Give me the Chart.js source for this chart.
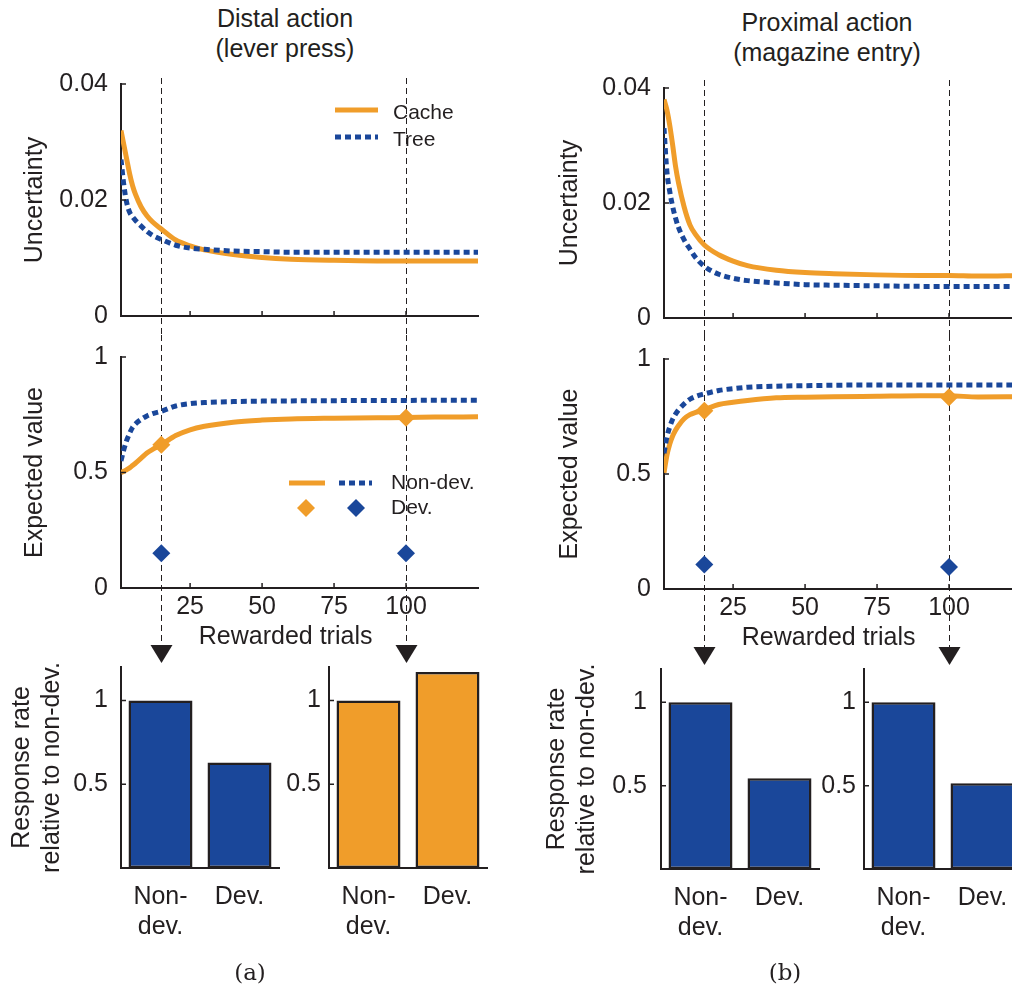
<!DOCTYPE html>
<html>
<head>
<meta charset="utf-8">
<script src="https://cdn.jsdelivr.net/npm/chart.js@4/dist/chart.umd.min.js"></script>
<style>
  body { margin: 0; width: 1012px; height: 987px; overflow: hidden; background: #fff; position: relative;
         font-family: "Liberation Sans", Arial, sans-serif; color: #231f20; }
  canvas { position: absolute; }
  .title { position: absolute; width: 300px; text-align: center; font-size: 25px; line-height: 30px; }
  .tag { position: absolute; width: 100px; text-align: center; font-family: "DejaVu Serif", serif; font-size: 23px; line-height: 30px; }
</style>
</head>
<body>
<div class="title" style="left:135px; top:3px">Distal action<br>(lever press)</div>
<div class="title" style="left:677px; top:7px">Proximal action<br>(magazine entry)</div>

<canvas id="uncDistal" width="500" height="269" style="left:0; top:66px"></canvas>
<canvas id="valDistal" width="500" height="330" style="left:0; top:335px"></canvas>
<canvas id="rateDistalEarly" width="290" height="312" style="left:0; top:648px"></canvas>
<canvas id="rateDistalLate" width="240" height="312" style="left:270px; top:648px"></canvas>

<canvas id="uncProximal" width="510" height="265" style="left:530px; top:70px"></canvas>
<canvas id="valProximal" width="510" height="332" style="left:530px; top:335px"></canvas>
<canvas id="rateProximalEarly" width="300" height="310" style="left:530px; top:650px"></canvas>
<canvas id="rateProximalLate" width="250" height="310" style="left:800px; top:650px"></canvas>

<div class="tag" style="left:200px; top:957px">(a)</div>
<div class="tag" style="left:735px; top:957px">(b)</div>

<script>
const INK = '#231f20';
const ORANGE = '#f09d2a';
const BLUE = '#1a479a';

// x values of the sampled curves (rewarded trials)
const trials = [1, 2, 3, 4, 5, 6, 8, 10, 12, 15, 20, 25, 30, 40, 50, 60, 75, 90, 100, 110, 125];
const trialTicks = [25, 50, 75, 100];
const probeTrials = [15, 100];

// distal action (lever press)
const cacheUncDistal = [0.032, 0.0295, 0.027, 0.0245, 0.0225, 0.021, 0.0188, 0.0173, 0.0162, 0.015, 0.0131, 0.0121,
  0.0114, 0.0106, 0.0101, 0.0098, 0.0096, 0.0095, 0.0095, 0.0095, 0.0095];
const treeUncDistal = [0.027, 0.0225, 0.0195, 0.0179, 0.0171, 0.0165, 0.0155, 0.0146, 0.0139, 0.0132, 0.0122, 0.0117,
  0.0115, 0.0112, 0.0111, 0.011, 0.011, 0.011, 0.011, 0.011, 0.011];
const cacheValDistal = [0.5, 0.505, 0.512, 0.52, 0.53, 0.54, 0.562, 0.584, 0.6, 0.62, 0.66, 0.685,
  0.7, 0.718, 0.727, 0.732, 0.735, 0.737, 0.738, 0.74, 0.741];
const treeValDistal = [0.55, 0.6, 0.64, 0.67, 0.695, 0.71, 0.73, 0.745, 0.755, 0.765, 0.788, 0.798,
  0.803, 0.807, 0.809, 0.81, 0.811, 0.812, 0.812, 0.813, 0.813];
const cacheDevDistal = [0.62, 0.737];
const treeDevDistal = [0.15, 0.15];

// proximal action (magazine entry)
const cacheUncProximal = [0.038, 0.0362, 0.0335, 0.0301, 0.0264, 0.0236, 0.0193, 0.0162, 0.0145, 0.0127, 0.011, 0.0099,
  0.0091, 0.0083, 0.0079, 0.0077, 0.0075, 0.0074, 0.0074, 0.0073, 0.0074];
const treeUncProximal = [0.033, 0.0255, 0.022, 0.0194, 0.0174, 0.0158, 0.0136, 0.012, 0.0105, 0.009, 0.0076, 0.0069,
  0.0065, 0.0061, 0.0058, 0.0057, 0.0056, 0.0055, 0.0055, 0.0055, 0.0055];
const cacheValProximal = [0.505, 0.58, 0.63, 0.665, 0.69, 0.71, 0.74, 0.758, 0.768, 0.78, 0.802, 0.812,
  0.82, 0.831, 0.834, 0.836, 0.838, 0.84, 0.84, 0.835, 0.836];
const treeValProximal = [0.59, 0.66, 0.705, 0.738, 0.76, 0.778, 0.805, 0.825, 0.837, 0.848, 0.863, 0.871,
  0.877, 0.882, 0.884, 0.886, 0.887, 0.887, 0.887, 0.887, 0.887];
const cacheDevProximal = [0.775, 0.834];
const treeDevProximal = [0.106, 0.096];

// response rate relative to non-devalued
const barLabels = [['Non-', 'dev.'], 'Dev.'];
const rateDistalEarly = [1, 0.63];
const rateDistalLate = [1, 1.17];
const rateProximalEarly = [1, 0.545];
const rateProximalLate = [1, 0.515];

const uncTicks = [0, 0.02, 0.04];
const valTicks = [0, 0.5, 1];
const rateTicks = [0.5, 1];

Chart.defaults.font.family = '"Liberation Sans", Arial, sans-serif';
Chart.defaults.font.size = 25;
Chart.defaults.color = INK;

// fixed axis boxes, so every plot area lands where the figure has it
const fixWidth = w => s => { s.width = w; s.paddingTop = 0; s.paddingBottom = 0; };
const fixHeight = h => s => { s.height = h; s.paddingLeft = 0; s.paddingRight = 0; };

// matlab style ticks pointing into the axes
const innerTicks = {
  id: 'innerTicks',
  afterDraw(chart) {
    const { ctx, chartArea: a, scales: { x, y } } = chart;
    ctx.save();
    ctx.strokeStyle = INK;
    ctx.lineWidth = 1.5;
    ctx.beginPath();
    if (x.type === 'linear') {
      x.ticks.forEach(t => {
        const px = x.getPixelForValue(t.value);
        ctx.moveTo(px, a.bottom);
        ctx.lineTo(px, a.bottom - 5);
      });
    }
    y.ticks.forEach(t => {
      const py = y.getPixelForValue(t.value);
      ctx.moveTo(a.left, py);
      ctx.lineTo(a.left + 5, py);
    });
    ctx.stroke();
    ctx.restore();
  }
};

// dashed lines at the probe trials, with arrows down to the bar plots
const probeLines = {
  id: 'probeLines',
  beforeDatasetsDraw(chart, args, opts) {
    const { ctx, scales: { x } } = chart;
    ctx.save();
    ctx.strokeStyle = INK;
    ctx.fillStyle = INK;
    ctx.lineWidth = 1;
    probeTrials.forEach(t => {
      const px = Math.round(x.getPixelForValue(t)) + 0.5;
      ctx.setLineDash([6, 4]);
      ctx.beginPath();
      ctx.moveTo(px, opts.from);
      ctx.lineTo(px, opts.to);
      ctx.stroke();
      if (opts.arrow) {
        ctx.setLineDash([]);
        ctx.beginPath();
        ctx.moveTo(px - 11, opts.to);
        ctx.lineTo(px + 11, opts.to);
        ctx.lineTo(px, opts.to + 18);
        ctx.closePath();
        ctx.fill();
      }
    });
    ctx.restore();
  }
};

// hand placed key, styles taken from the datasets
const keyBox = {
  id: 'keyBox',
  afterDatasetsDraw(chart, args, opts) {
    if (!opts || !opts.items) return;
    const { ctx, chartArea: a } = chart;
    const sets = chart.data.datasets;
    ctx.save();
    opts.items.forEach(it => {
      const x = a.left + it.x, y = a.top + it.y;
      if (it.kind === 'line') {
        const ds = sets[it.ds];
        ctx.strokeStyle = ds.borderColor;
        ctx.lineWidth = ds.borderWidth;
        ctx.setLineDash(ds.borderDash || []);
        ctx.beginPath();
        ctx.moveTo(x, y);
        ctx.lineTo(x + it.w, y);
        ctx.stroke();
      } else if (it.kind === 'point') {
        const ds = sets[it.ds], r = ds.pointRadius;
        ctx.fillStyle = ds.pointBackgroundColor;
        ctx.beginPath();
        ctx.moveTo(x, y - r);
        ctx.lineTo(x + r, y);
        ctx.lineTo(x, y + r);
        ctx.lineTo(x - r, y);
        ctx.closePath();
        ctx.fill();
      } else {
        ctx.fillStyle = INK;
        ctx.font = '21px "Liberation Sans", Arial, sans-serif';
        ctx.textBaseline = 'middle';
        ctx.fillText(it.text, x, y);
      }
    });
    ctx.restore();
  }
};

const curve = vals => trials.map((t, i) => ({ x: t, y: vals[i] }));
const probe = vals => probeTrials.map((t, i) => ({ x: t, y: vals[i] }));

const cacheLine = vals => ({
  data: curve(vals), borderColor: ORANGE, borderWidth: 5, pointRadius: 0,
  cubicInterpolationMode: 'monotone', order: 2
});
const treeLine = vals => ({
  data: curve(vals), borderColor: BLUE, borderWidth: 5, borderDash: [6, 4], pointRadius: 0,
  cubicInterpolationMode: 'monotone', order: 1
});
const devMarks = (vals, color) => ({
  data: probe(vals), showLine: false, pointStyle: 'rectRot', pointRadius: 9,
  pointBackgroundColor: color, pointBorderWidth: 0, order: 0
});

function lineChart(id, c) {
  return new Chart(document.getElementById(id), {
    type: 'line',
    data: { datasets: c.datasets },
    options: {
      responsive: false,
      animation: false,
      events: [],
      layout: { padding: c.pad },
      plugins: {
        legend: { display: false },
        tooltip: { enabled: false },
        probeLines: c.probe,
        keyBox: c.key || {}
      },
      scales: {
        x: {
          type: 'linear', min: 1, max: 125, bounds: 'data',
          grid: { display: false, drawTicks: false },
          border: { color: INK, width: 2 },
          afterBuildTicks: s => { s.ticks = trialTicks.map(v => ({ value: v })); },
          afterFit: fixHeight(c.xHeight),
          ticks: { display: c.xLabels, padding: 4, callback: v => String(v) },
          title: { display: c.xLabels, text: 'Rewarded trials\u00a0\u00a0\u00a0\u00a0', padding: 0 }
        },
        y: {
          min: 0, max: c.yTicks[c.yTicks.length - 1], bounds: 'data',
          grid: { display: false, drawTicks: false },
          border: { color: INK, width: 2 },
          afterBuildTicks: s => { s.ticks = c.yTicks.map(v => ({ value: v })); },
          afterFit: fixWidth(c.yWidth),
          ticks: { padding: 13, callback: v => String(v) },
          title: { display: true, text: c.yTitle, padding: { top: c.titlePad, bottom: 0 } }
        }
      }
    },
    plugins: [innerTicks, probeLines, keyBox]
  });
}

function barChart(id, c) {
  return new Chart(document.getElementById(id), {
    type: 'bar',
    data: {
      labels: barLabels,
      datasets: [{
        data: c.values, backgroundColor: c.color, borderColor: INK, borderWidth: 2.5,
        borderSkipped: false, barPercentage: 0.81, categoryPercentage: 1
      }]
    },
    options: {
      responsive: false,
      animation: false,
      events: [],
      layout: { padding: c.pad },
      plugins: { legend: { display: false }, tooltip: { enabled: false } },
      scales: {
        x: {
          grid: { display: false, drawTicks: false },
          border: { color: INK, width: 2 },
          afterFit: fixHeight(c.xHeight),
          ticks: { padding: 14, maxRotation: 0, autoSkip: false }
        },
        y: {
          min: 0, max: 1.2, bounds: 'data',
          grid: { display: false, drawTicks: false },
          border: { color: INK, width: 2 },
          afterBuildTicks: s => { s.ticks = rateTicks.map(v => ({ value: v })); },
          afterFit: fixWidth(c.yWidth),
          ticks: { padding: c.tickPad, callback: v => String(v) },
          title: { display: !!c.yTitle, text: c.yTitle, padding: { top: c.titlePad || 0, bottom: 0 } }
        }
      }
    },
    plugins: [innerTicks]
  });
}

const rateTitle = ['Response rate', 'relative to non-dev.'];

// panel (a)
lineChart('uncDistal', {
  datasets: [cacheLine(cacheUncDistal), treeLine(treeUncDistal)],
  pad: { left: 0, top: 18, right: 22, bottom: 0 },
  yWidth: 121, xHeight: 19, xLabels: false,
  yTicks: uncTicks, yTitle: 'Uncertainty', titlePad: 20,
  probe: { from: 12, to: 269 },
  key: {
    items: [
      { kind: 'line', ds: 0, x: 214, y: 26, w: 43 },
      { kind: 'text', text: 'Cache', x: 272, y: 29 },
      { kind: 'line', ds: 1, x: 214, y: 53, w: 43 },
      { kind: 'text', text: 'Tree', x: 272, y: 56 }
    ]
  }
});

lineChart('valDistal', {
  datasets: [cacheLine(cacheValDistal), treeLine(treeValDistal),
    devMarks(cacheDevDistal, ORANGE), devMarks(treeDevDistal, BLUE)],
  pad: { left: 0, top: 22, right: 22, bottom: 13 },
  yWidth: 121, xHeight: 64, xLabels: true,
  yTicks: valTicks, yTitle: 'Expected value', titlePad: 20,
  probe: { from: 0, to: 310, arrow: true },
  key: {
    items: [
      { kind: 'line', ds: 0, x: 168, y: 126, w: 36 },
      { kind: 'line', ds: 1, x: 218, y: 126, w: 33 },
      { kind: 'text', text: 'Non-dev.', x: 270, y: 126 },
      { kind: 'point', ds: 2, x: 185, y: 151 },
      { kind: 'point', ds: 3, x: 235, y: 151 },
      { kind: 'text', text: 'Dev.', x: 270, y: 151 }
    ]
  }
});

barChart('rateDistalEarly', {
  values: rateDistalEarly, color: BLUE,
  pad: { left: 0, top: 19, right: 11, bottom: 0 },
  yWidth: 121, xHeight: 92, tickPad: 13, yTitle: rateTitle, titlePad: 7
});
barChart('rateDistalLate', {
  values: rateDistalLate, color: ORANGE,
  pad: { left: 0, top: 19, right: 23, bottom: 0 },
  yWidth: 59, xHeight: 92, tickPad: 8
});

// panel (b)
lineChart('uncProximal', {
  datasets: [cacheLine(cacheUncProximal), treeLine(treeUncProximal)],
  pad: { left: 0, top: 18, right: 19, bottom: 0 },
  yWidth: 134, xHeight: 17, xLabels: false,
  yTicks: uncTicks, yTitle: 'Uncertainty', titlePad: 25,
  probe: { from: 10, to: 265 }
});

lineChart('valProximal', {
  datasets: [cacheLine(cacheValProximal), treeLine(treeValProximal),
    devMarks(cacheDevProximal, ORANGE), devMarks(treeDevProximal, BLUE)],
  pad: { left: 0, top: 24, right: 19, bottom: 14 },
  yWidth: 134, xHeight: 64, xLabels: true,
  yTicks: valTicks, yTitle: 'Expected value', titlePad: 25,
  probe: { from: 0, to: 312, arrow: true }
});

barChart('rateProximalEarly', {
  values: rateProximalEarly, color: BLUE,
  pad: { left: 0, top: 19, right: 11, bottom: 0 },
  yWidth: 131, xHeight: 91, tickPad: 14, yTitle: rateTitle, titlePad: 12
});
barChart('rateProximalLate', {
  values: rateProximalLate, color: BLUE,
  pad: { left: 0, top: 19, right: 28, bottom: 0 },
  yWidth: 64, xHeight: 91, tickPad: 8
});
</script>
</body>
</html>
